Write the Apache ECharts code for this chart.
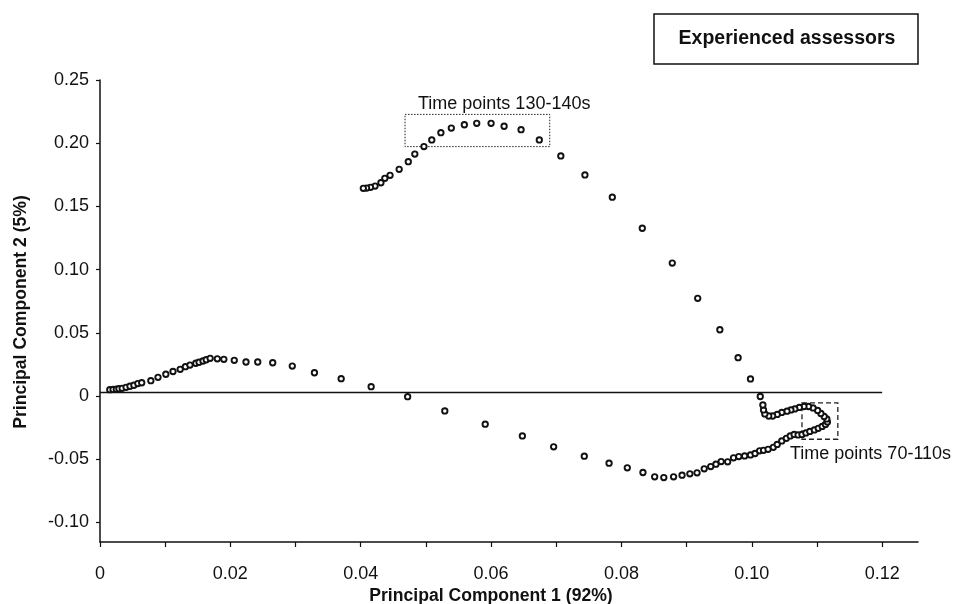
<!DOCTYPE html>
<html>
<head>
<meta charset="utf-8">
<title>Experienced assessors</title>
<script src="https://cdn.jsdelivr.net/npm/echarts@6/dist/echarts.min.js"></script>
<style>
  html, body { margin: 0; padding: 0; background: #fff; }
  #chart { width: 954px; height: 604px; }
</style>
</head>
<body>
<div id="chart"></div>
<script>
// trajectory of the mean scores, in time order (PC1, PC2)
var pc1 = [
  0.0015, 0.0020, 0.0025, 0.0029, 0.0034, 0.0040, 0.0046, 0.0052, 0.0058, 0.0064,
  0.0078, 0.0089, 0.0101, 0.0112, 0.0123, 0.0131, 0.0138, 0.0147, 0.0152, 0.0158,
  0.0163, 0.0169, 0.0180, 0.0190, 0.0206, 0.0224, 0.0242, 0.0265, 0.0295, 0.0329,
  0.0370, 0.0416, 0.0472, 0.0529, 0.0591, 0.0648, 0.0696,
  0.0743, 0.0781, 0.0809, 0.0833, 0.0851, 0.0865, 0.0880, 0.0893, 0.0905, 0.0916,
  0.0927, 0.0937, 0.0945, 0.0953, 0.0963, 0.0972, 0.0980, 0.0989, 0.0998, 0.1005, 0.1012,
  0.1018, 0.1025, 0.1033, 0.1039, 0.1046, 0.1053, 0.1059, 0.1065, 0.1071, 0.1077,
  0.1083, 0.1089, 0.1096, 0.1102, 0.1108, 0.1113, 0.1116, 0.1115, 0.1111, 0.1106,
  0.1101, 0.1094, 0.1087, 0.1080, 0.1073, 0.1066, 0.1060, 0.1054, 0.1046, 0.1039,
  0.1032, 0.1026, 0.1020, 0.1018, 0.1017, 0.1013,
  0.0998, 0.0979, 0.0951, 0.0917, 0.0878, 0.0832, 0.0786, 0.0744, 0.0707, 0.0674,
  0.0646, 0.0620, 0.0600, 0.0578, 0.0559, 0.0539, 0.0523, 0.0509, 0.0497, 0.0483,
  0.0473, 0.0459, 0.0445, 0.0437, 0.0431, 0.0422, 0.0415, 0.0409, 0.0404
];
var pc2 = [
  0.0050, 0.0052, 0.0054, 0.0058, 0.0061, 0.0069, 0.0077, 0.0085, 0.0098, 0.0105,
  0.0121, 0.0148, 0.0172, 0.0194, 0.0211, 0.0232, 0.0245, 0.0259, 0.0267, 0.0277,
  0.0287, 0.0298, 0.0294, 0.0290, 0.0282, 0.0269, 0.0269, 0.0263, 0.0237, 0.0184,
  0.0137, 0.0074, -0.0005, -0.0118, -0.0223, -0.0316, -0.0402,
  -0.0476, -0.0531, -0.0568, -0.0605, -0.0639, -0.0645, -0.0639, -0.0626, -0.0616, -0.0608,
  -0.0576, -0.0558, -0.0539, -0.0519, -0.0521, -0.0489, -0.0479, -0.0474, -0.0466, -0.0455, -0.0434,
  -0.0430, -0.0422, -0.0406, -0.0383, -0.0355, -0.0335, -0.0316, -0.0304, -0.0308, -0.0304,
  -0.0292, -0.0280, -0.0268, -0.0256, -0.0241, -0.0225, -0.0205, -0.0181, -0.0162, -0.0138,
  -0.0114, -0.0094, -0.0083, -0.0083, -0.0090, -0.0102, -0.0110, -0.0120, -0.0130, -0.0146,
  -0.0158, -0.0158, -0.0142, -0.0110, -0.0071, -0.0004,
  0.0135, 0.0303, 0.0524, 0.0773, 0.1052, 0.1327, 0.1573, 0.1749, 0.1899, 0.2026,
  0.2107, 0.2134, 0.2157, 0.2157, 0.2146, 0.2120, 0.2083, 0.2026, 0.1973, 0.1914,
  0.1854, 0.1793, 0.1746, 0.1722, 0.1687, 0.1661, 0.1651, 0.1645, 0.1643
];

var xTicks = [0, 0.01, 0.02, 0.03, 0.04, 0.05, 0.06, 0.07, 0.08, 0.09, 0.10, 0.11, 0.12];
var xLabels = [0, 0.02, 0.04, 0.06, 0.08, 0.10, 0.12];
var yLabels = [-0.10, -0.05, 0, 0.05, 0.10, 0.15, 0.20, 0.25];

// horizontal reference line as drawn in the figure (sits a hair above the 0 tick)
var refLineX = [0, 0.12];
var refLineY = 0.0028;

// annotation boxes: [x1, y1, x2, y2]
var box130to140 = [0.0468, 0.2228, 0.0690, 0.1973];
var box70to110 = [0.1077, -0.0055, 0.1132, -0.0342];

var FONT = 'Liberation Sans, Arial, Helvetica, sans-serif';

var points = pc1.map(function (x, i) { return [x, pc2[i]]; });

function fmt(v) {
  return v === 0 ? '0' : v.toFixed(2);
}

var chart = echarts.init(document.getElementById('chart'));

var option = {
  animation: false,
  backgroundColor: '#fff',
  grid: { left: 100, right: 36, top: 80, bottom: 62 },
  xAxis: {
    type: 'value',
    min: 0,
    max: 0.1255,
    axisLine: { onZero: false, lineStyle: { color: '#111', width: 1.5 } },
    axisTick: { customValues: xTicks, length: 5, lineStyle: { color: '#111', width: 1.2 } },
    axisLabel: {
      customValues: xLabels,
      formatter: fmt,
      color: '#111',
      fontFamily: FONT,
      fontSize: 18,
      margin: 23
    },
    splitLine: { show: false }
  },
  yAxis: {
    type: 'value',
    min: -0.1155,
    max: 0.25,
    axisLine: { onZero: false, lineStyle: { color: '#111', width: 1.5 } },
    axisTick: { customValues: yLabels, length: 4, lineStyle: { color: '#111', width: 1.2 } },
    axisLabel: {
      customValues: yLabels,
      formatter: fmt,
      color: '#111',
      fontFamily: FONT,
      fontSize: 18,
      margin: 11
    },
    splitLine: { show: false }
  },
  series: [
    {
      type: 'line',
      data: refLineX.map(function (x) { return [x, refLineY]; }),
      symbol: 'none',
      lineStyle: { color: '#111', width: 1.5 },
      silent: true,
      z: 1
    },
    {
      type: 'scatter',
      data: points,
      symbol: 'circle',
      symbolSize: 5.4,
      itemStyle: { color: '#fff', borderColor: '#111', borderWidth: 1.9, opacity: 1 },
      z: 3,
      markArea: {
        silent: true,
        itemStyle: { color: 'rgba(0,0,0,0)', borderColor: '#222', borderWidth: 1 },
        data: [
          [
            { coord: [box130to140[0], box130to140[1]], itemStyle: { borderType: [1.5, 1.5] } },
            { coord: [box130to140[2], box130to140[3]] }
          ],
          [
            { coord: [box70to110[0], box70to110[1]], itemStyle: { borderType: [5, 3], borderWidth: 1.3 } },
            { coord: [box70to110[2], box70to110[3]] }
          ]
        ]
      }
    }
  ],
  graphic: [
    {
      type: 'rect',
      shape: { x: 654, y: 14, width: 264, height: 50 },
      style: { fill: '#fff', stroke: '#111', lineWidth: 1.5 }
    },
    {
      type: 'text',
      x: 787, y: 39,
      style: {
        text: 'Experienced assessors',
        font: 'bold 19.5px ' + FONT,
        fill: '#111',
        align: 'center',
        verticalAlign: 'middle'
      }
    },
    {
      type: 'text',
      x: 418, y: 104,
      style: {
        text: 'Time points 130-140s',
        font: '18px ' + FONT,
        fill: '#111',
        align: 'left',
        verticalAlign: 'middle'
      }
    },
    {
      type: 'text',
      x: 790, y: 454,
      style: {
        text: 'Time points 70-110s',
        font: '18px ' + FONT,
        fill: '#111',
        align: 'left',
        verticalAlign: 'middle'
      }
    },
    {
      type: 'text',
      x: 491, y: 596,
      style: {
        text: 'Principal Component 1 (92%)',
        font: 'bold 17.6px ' + FONT,
        fill: '#111',
        align: 'center',
        verticalAlign: 'middle'
      }
    },
    {
      type: 'text',
      x: 21, y: 312,
      rotation: Math.PI / 2,
      style: {
        text: 'Principal Component 2 (5%)',
        font: 'bold 17.6px ' + FONT,
        fill: '#111',
        align: 'center',
        verticalAlign: 'middle'
      }
    }
  ]
};

chart.setOption(option);
</script>
</body>
</html>
